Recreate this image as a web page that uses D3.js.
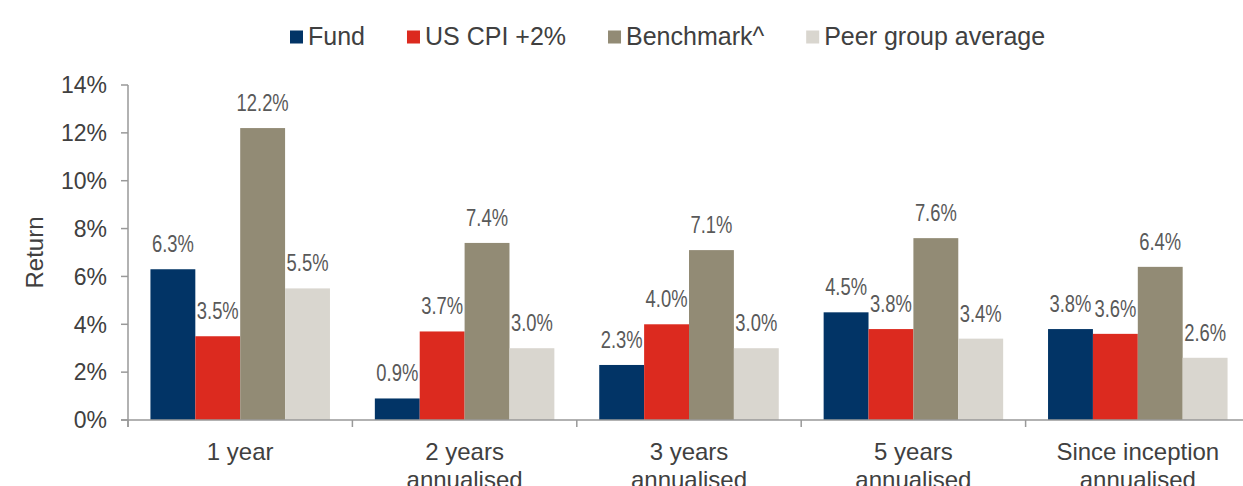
<!DOCTYPE html>
<html>
<head>
<meta charset="utf-8">
<script src="https://cdn.jsdelivr.net/npm/d3@7"></script>
<style>
body { margin: 0; background: #fff; overflow: hidden; }
svg { display: block; }
</style>
</head>
<body>
<script>
var categories = [["1 year"], ["2 years", "annualised"], ["3 years", "annualised"], ["5 years", "annualised"], ["Since inception", "annualised"]];
var seriesNames = ["Fund", "US CPI +2%", "Benchmark^", "Peer group average"];
var fund = [6.3, 0.9, 2.3, 4.5, 3.8];
var cpi = [3.5, 3.7, 4.0, 3.8, 3.6];
var benchmark = [12.2, 7.4, 7.1, 7.6, 6.4];
var peer = [5.5, 3.0, 3.0, 3.4, 2.6];
var yTicks = [0, 2, 4, 6, 8, 10, 12, 14];

var colors = ["#023466", "#dc2a1f", "#928b75", "#d9d6cf"];
var textcolor = "#404040";
var labelcolor = "#595959";
var axiscolor = "#999";

var width = 1243, height = 486;
var plotLeft = 128, plotTop = 85, plotBottom = 420;
var groupW = 224.4;
var plotRight = plotLeft + groupW * categories.length;

var svg = d3.select("body").append("svg")
	.attr("width", width)
	.attr("height", height);

var x0 = d3.scaleBand()
	.domain(d3.range(categories.length))
	.range([plotLeft, plotRight])
	.paddingInner(0.2)
	.paddingOuter(0.1);
var x1 = d3.scaleBand()
	.domain(d3.range(seriesNames.length))
	.range([0, x0.bandwidth()]);
var y = d3.scaleLinear().domain([0, 14]).range([plotBottom, plotTop]);

var allSeries = [fund, cpi, benchmark, peer];
var rows = [];
allSeries.forEach((s, si) => s.forEach((v, ci) => rows.push({s: si, c: ci, v: v})));

// bars
svg.append("g").selectAll("rect")
	.data(rows)
	.enter().append("rect")
	.attr("x", d => x0(d.c) + x1(d.s))
	.attr("y", d => y(d.v))
	.attr("width", x1.bandwidth())
	.attr("height", d => y(0) - y(d.v))
	.style("fill", d => colors[d.s])

// value labels (narrow font faked with a horizontal squeeze)
svg.append("g").selectAll("text")
	.data(rows)
	.enter().append("text")
	.attr("transform", d => `translate(${x0(d.c) + x1(d.s) + x1.bandwidth() / 2},${y(d.v) - 17}) scale(0.8,1)`)
	.attr("text-anchor", "middle")
	.attr("font-family", "'Liberation Sans', Arial, sans-serif")
	.attr("font-size", "23px")
	.attr("fill", labelcolor)
	.text(d => d.v.toFixed(1) + "%")

// y axis
var yAxis = svg.append("g");
yAxis.append("line")
	.attr("x1", plotLeft).attr("x2", plotLeft)
	.attr("y1", plotTop).attr("y2", plotBottom + 7)
	.style("stroke", axiscolor).style("stroke-width", 1.5)
yAxis.selectAll(".yt")
	.data(yTicks)
	.enter().append("line")
	.attr("x1", plotLeft - 7).attr("x2", plotLeft)
	.attr("y1", d => y(d)).attr("y2", d => y(d))
	.style("stroke", axiscolor).style("stroke-width", 1.5)
yAxis.selectAll("text")
	.data(yTicks)
	.enter().append("text")
	.attr("x", 107)
	.attr("y", d => y(d))
	.attr("dy", "0.36em")
	.attr("text-anchor", "end")
	.attr("font-family", "'Liberation Sans', Arial, sans-serif")
	.attr("font-size", "23px")
	.attr("fill", textcolor)
	.text(d => d + "%")

svg.append("text")
	.attr("transform", `translate(43,${(plotTop + plotBottom) / 2}) rotate(-90)`)
	.attr("text-anchor", "middle")
	.attr("font-family", "'Liberation Sans', Arial, sans-serif")
	.attr("font-size", "24px")
	.attr("fill", textcolor)
	.text("Return")

// x axis
var xAxis = svg.append("g");
xAxis.append("line")
	.attr("x1", plotLeft - 7).attr("x2", plotRight)
	.attr("y1", plotBottom).attr("y2", plotBottom)
	.style("stroke", axiscolor).style("stroke-width", 1.5)
xAxis.selectAll(".xt")
	.data(d3.range(categories.length + 1))
	.enter().append("line")
	.attr("x1", d => plotLeft + d * groupW).attr("x2", d => plotLeft + d * groupW)
	.attr("y1", plotBottom).attr("y2", plotBottom + 7)
	.style("stroke", axiscolor).style("stroke-width", 1.5)
var catLabels = xAxis.selectAll(".cat")
	.data(categories)
	.enter().append("text")
	.attr("x", (d, i) => x0(i) + x0.bandwidth() / 2)
	.attr("y", 460)
	.attr("text-anchor", "middle")
	.attr("font-family", "'Liberation Sans', Arial, sans-serif")
	.attr("font-size", "24px")
	.attr("fill", textcolor)
catLabels.selectAll("tspan")
	.data((d, i) => d.map(t => ({t: t, x: x0(i) + x0.bandwidth() / 2})))
	.enter().append("tspan")
	.attr("x", d => d.x)
	.attr("dy", (d, i) => i ? 28 : 0)
	.text(d => d.t)

// legend
var legend = svg.append("g");
var lx = 290;
seriesNames.forEach((name, i) => {
	legend.append("rect")
		.attr("x", lx).attr("y", 30.5)
		.attr("width", 13).attr("height", 13)
		.style("fill", colors[i])
	var t = legend.append("text")
		.attr("x", lx + 18).attr("y", 45)
		.attr("font-family", "'Liberation Sans', Arial, sans-serif")
		.attr("font-size", "25px")
		.attr("fill", textcolor)
		.text(name)
	lx += 18 + t.node().getComputedTextLength() + 42;
});
</script>
</body>
</html>
